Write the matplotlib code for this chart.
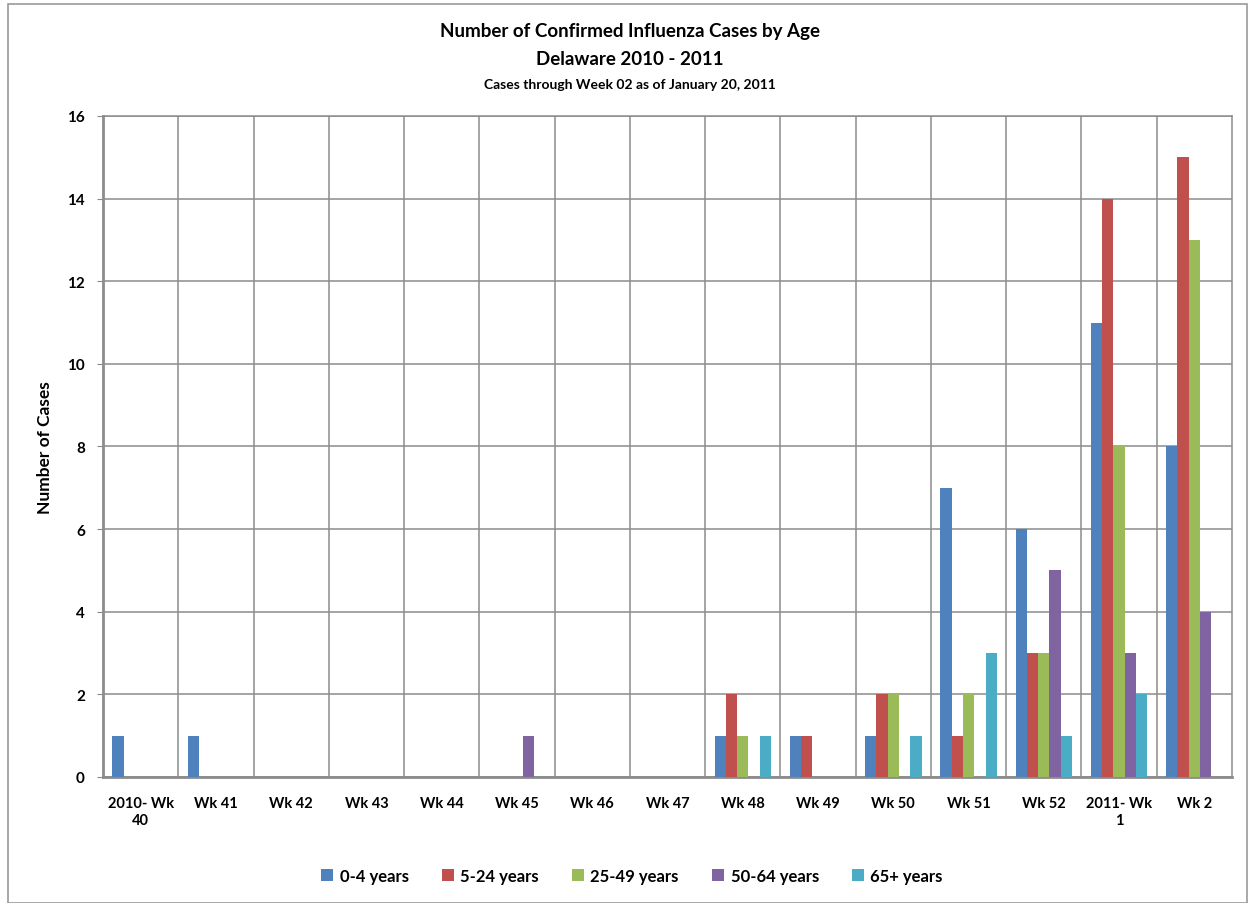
import numpy as np
import matplotlib.pyplot as plt
from matplotlib.patches import Rectangle

plt.rcParams['font.family'] = ['Lato', 'DejaVu Sans']
plt.rcParams['font.weight'] = 'bold'

# 数据
weeks = ['2010- Wk\n40', 'Wk 41', 'Wk 42', 'Wk 43', 'Wk 44', 'Wk 45', 'Wk 46', 'Wk 47',
         'Wk 48', 'Wk 49', 'Wk 50', 'Wk 51', 'Wk 52', '2011- Wk\n1', 'Wk 2']
age_0_4 = [1, 1, 0, 0, 0, 0, 0, 0, 1, 1, 1, 7, 6, 11, 8]
age_5_24 = [0, 0, 0, 0, 0, 0, 0, 0, 2, 1, 2, 1, 3, 14, 15]
age_25_49 = [0, 0, 0, 0, 0, 0, 0, 0, 1, 0, 2, 2, 3, 8, 13]
age_50_64 = [0, 0, 0, 0, 0, 1, 0, 0, 0, 0, 0, 0, 5, 3, 4]
age_65 = [0, 0, 0, 0, 0, 0, 0, 0, 1, 0, 1, 3, 1, 2, 0]

series = [age_0_4, age_5_24, age_25_49, age_50_64, age_65]
labels = ['0-4 years', '5-24 years', '25-49 years', '50-64 years', '65+ years']
colors = ['#4F81BD', '#C0504D', '#9BBB59', '#8064A2', '#4BACC6']

fig = plt.figure(figsize=(12.49, 9.04), dpi=100)
ax = fig.add_axes([0.0825, 0.1394, 0.9039, 0.7312])

# 外框
fig.patches.append(Rectangle((8 / 1249, 0.0), 1 - 10 / 1249, 1 - 5 / 904, transform=fig.transFigure,
                             fill=False, edgecolor='#999999', linewidth=1.2))

x = np.arange(len(weeks))
w = 0.15
for i, (vals, lab, c) in enumerate(zip(series, labels, colors)):
    ax.bar(x - 0.3 + i * w, vals, width=w, color=c, label=lab, zorder=3, linewidth=0)

ax.set_xlim(-0.5, len(weeks) - 0.5)
ax.set_ylim(0, 16)
ax.set_yticks(range(0, 17, 2))
ax.set_xticks(x)
ax.set_xticklabels(weeks, fontsize=10.5, fontweight='bold')
ax.tick_params(axis='x', length=0, pad=14)
ax.tick_params(axis='y', length=4, color='#888888', labelsize=11, pad=9)
for t in ax.get_yticklabels():
    t.set_fontweight('bold')

# 网格线
for b in np.arange(0.5, len(weeks) - 0.5, 1):
    ax.axvline(b, color='#8c8c8c', linewidth=1.1, zorder=1)
ax.yaxis.grid(True, color='#8c8c8c', linewidth=1.1, zorder=1)
ax.set_axisbelow(True)

for s in ['top', 'right']:
    ax.spines[s].set_color('#8c8c8c')
    ax.spines[s].set_linewidth(1.1)
for s in ['left', 'bottom']:
    ax.spines[s].set_color('#8c8c8c')
    ax.spines[s].set_linewidth(2)

ax.set_ylabel('Number of Cases', fontsize=12.5, fontweight='bold', labelpad=10)

fig.text(0.5045, 0.965, 'Number of Confirmed Influenza Cases by Age', ha='center', va='center',
         fontsize=13.5, fontweight='bold')
fig.text(0.5045, 0.934, 'Delaware 2010 - 2011', ha='center', va='center',
         fontsize=13.5, fontweight='bold')
fig.text(0.5045, 0.906, 'Cases through Week 02 as of January 20, 2011', ha='center', va='center',
         fontsize=10, fontweight='bold')

leg = fig.legend(loc='center', bbox_to_anchor=(0.506, 0.03), ncol=5, frameon=False,
                 fontsize=12, handlelength=0.7, handleheight=0.7, handletextpad=0.4,
                 columnspacing=2.0)
for t in leg.get_texts():
    t.set_fontweight('bold')

plt.savefig('out.png', dpi=100)
